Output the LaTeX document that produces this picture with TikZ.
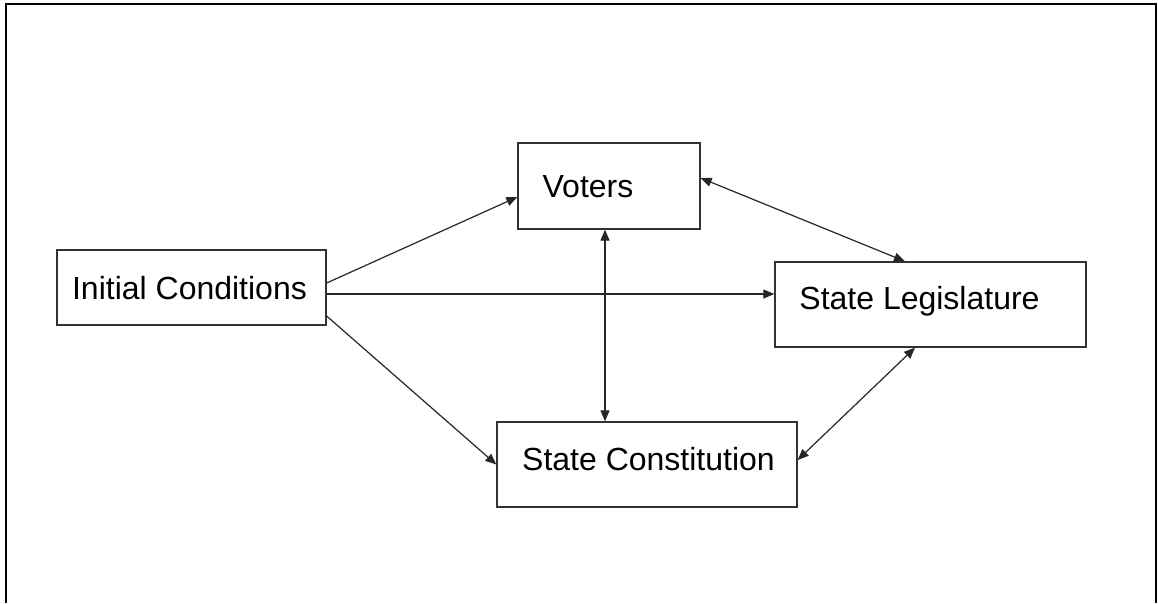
\documentclass[tikz,border=0pt]{standalone}
\usepackage{fontspec}
\setmainfont{Liberation Sans}
\usetikzlibrary{arrows.meta}
\begin{document}
\begin{tikzpicture}[x=1pt,y=-1pt,
  box/.style={draw=black!80,line width=1.3pt,inner sep=0pt,fill=none},
  txt/.style={anchor=base,inner sep=0pt,font=\fontsize{32}{38}\selectfont},
  conn/.style={draw=black!85,line width=1.2pt,-{Triangle[length=11pt,width=9pt]}},
  bconn/.style={draw=black!85,line width=1.2pt,{Triangle[length=11pt,width=9pt]}-{Triangle[length=11pt,width=9pt]}}]
\useasboundingbox (0,0) rectangle (1158,603);
\fill[white] (0,0) rectangle (1158,603);
\draw[line width=2pt] (6,603) -- (6,4) -- (1156,4) -- (1156,603);
% boxes
\node[box,minimum width=269pt,minimum height=75pt] (init) at (191.5,287.5) {};
\node[box,minimum width=182pt,minimum height=86pt] (voters) at (609,186) {};
\node[box,minimum width=311pt,minimum height=85pt] (leg) at (930.5,304.5) {};
\node[box,minimum width=300pt,minimum height=85pt] (const) at (647,464.5) {};
% texts
\node[txt] (initt) at (189.5,299) {Initial Conditions};
\node[txt] (voterst) at (588,197) {Voters};
\node[txt] (legt) at (919.5,309) {State Legislature};
\node[txt] (constt) at (648.5,470) {State Constitution};
% connectors
\draw[conn] ([yshift=4.5pt]init.east) -- ([yshift=-11pt]voters.west);
\draw[conn] ([yshift=-6.5pt]init.east) -- ([yshift=10.5pt]leg.west);
\draw[conn] ([yshift=-28.5pt]init.east) -- (const.west);
\draw[bconn] ([xshift=-4pt]voters.south) -- ([xshift=-4pt]voters.south |- const.north);
\draw[bconn] ([yshift=8pt]voters.east) -- ([xshift=-25.5pt]leg.north);
\draw[bconn] ([xshift=-15.5pt]leg.south) -- ([yshift=4.5pt]const.east);
\end{tikzpicture}
\end{document}
